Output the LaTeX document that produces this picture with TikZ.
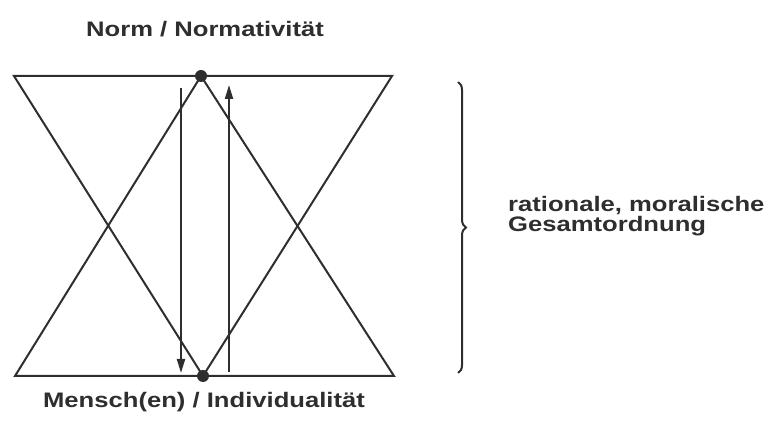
\documentclass[tikz,border=0pt]{standalone}
\usepackage{fontspec}
\setmainfont[FakeStretch=1.22]{Liberation Sans}
\usetikzlibrary{arrows.meta, decorations.pathreplacing}
\definecolor{inkgray}{HTML}{2E2E2E}
\tikzset{
  LBL/.style={font=\fontsize{21}{20}\selectfont\bfseries, text=inkgray, inner sep=0pt},
  TRI/.style={draw=inkgray, line width=2pt, line join=miter},
  DOT/.style={circle, fill=inkgray, inner sep=0pt, minimum size=12pt},
  VARR/.style={-{Triangle[length=14pt,width=8pt]}, draw=inkgray, line width=2pt},
}
\begin{document}
\begin{tikzpicture}[x=1pt, y=1pt]
  \useasboundingbox (0,0) rectangle (779,430);
  % corners of the two triangles
  \coordinate (tl) at (14,354);
  \coordinate (tr) at (392,354);
  \coordinate (bl) at (15,54);
  \coordinate (br) at (394,54);
  \node[DOT] (ntop) at (201,354) {};
  \node[DOT] (nbot) at (203,54) {};
  \draw[TRI] (tl) -- (tr) -- (nbot.center) -- cycle;
  \draw[TRI] (bl) -- (br) -- (ntop.center) -- cycle;
  % arrows
  \coordinate (a1) at (181,342);
  \coordinate (a2) at (181,57);
  \coordinate (b1) at (229,58);
  \coordinate (b2) at (229,345);
  \draw[VARR] (a1) -- (a2);
  \draw[VARR] (b1) -- (b2);
  % brace
  \coordinate (c1) at (458,348);
  \coordinate (c2) at (458,57);
  \draw[inkgray, line width=2pt, decorate, decoration={brace, amplitude=8pt}] (c1) -- (c2);
  % labels
  \node[LBL, anchor=base] (norm) at (205,393) {Norm / Normativität};
  \node[LBL, anchor=base] (mensch) at (204,22) {Mensch(en) / Individualität};
  \node[LBL, align=left, anchor=west] (ordn) at (508,214) {rationale, moralische\\Gesamtordnung};
\end{tikzpicture}
\end{document}
